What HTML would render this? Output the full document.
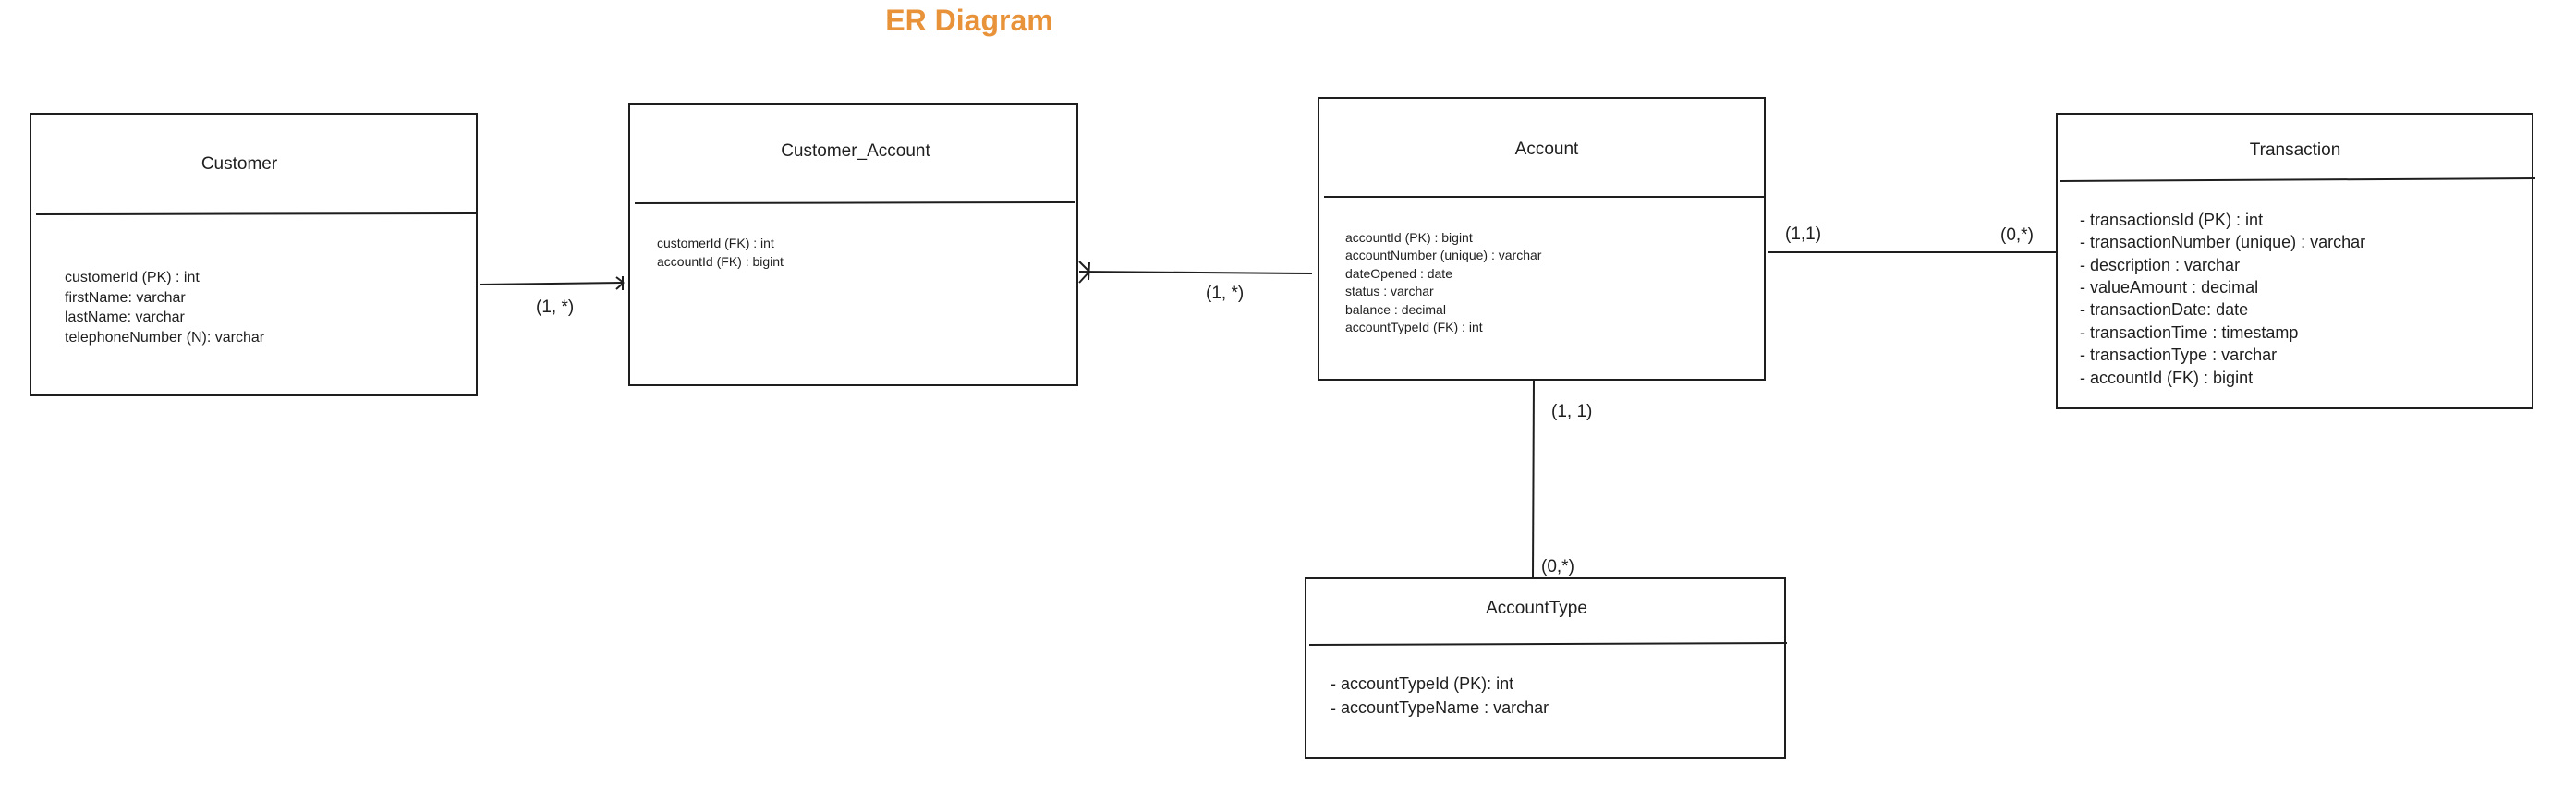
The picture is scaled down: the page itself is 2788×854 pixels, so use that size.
<!DOCTYPE html>
<html><head><meta charset="utf-8"><style>
html,body{margin:0;padding:0;background:#fff;}
svg{display:block;}
text{font-family:"Liberation Sans",sans-serif;fill:#1e1e1e;}
</style></head><body>
<svg width="2788" height="854" viewBox="0 0 2788 854" xmlns="http://www.w3.org/2000/svg">
<g fill="none" stroke="#1e1e1e" stroke-width="2">
<!-- Customer -->
<rect x="33" y="123" width="483" height="305"/>
<line x1="39" y1="232" x2="516" y2="231"/>
<!-- Customer_Account -->
<rect x="681" y="113" width="485" height="304"/>
<line x1="687" y1="220" x2="1164" y2="219"/>
<!-- Account -->
<rect x="1427" y="106" width="483" height="305"/>
<line x1="1433" y1="213" x2="1910" y2="213"/>
<!-- Transaction -->
<rect x="2226" y="123" width="515" height="319"/>
<line x1="2230" y1="196" x2="2744" y2="193"/>
<!-- AccountType -->
<rect x="1413" y="626" width="519" height="194"/>
<line x1="1417" y1="698" x2="1934" y2="696"/>
<!-- connectors -->
<line x1="519" y1="308" x2="674" y2="306"/>
<line x1="667" y1="300" x2="675" y2="306"/><line x1="667" y1="313" x2="675" y2="306"/><line x1="674" y1="299" x2="674" y2="314"/>
<line x1="1168" y1="294" x2="1420" y2="296"/>
<line x1="1168" y1="283" x2="1179" y2="294"/><line x1="1168" y1="306" x2="1179" y2="294"/><line x1="1179" y1="284" x2="1178" y2="303"/>
<line x1="1914" y1="273" x2="2226" y2="273"/>
<line x1="1660" y1="411" x2="1659" y2="626"/>
</g>
<text x="1049" y="33" text-anchor="middle" font-size="32" font-weight="bold" style="fill:#e8923a">ER Diagram</text>

<g font-size="19" text-anchor="middle">
<text x="259" y="183">Customer</text>
<text x="926" y="169">Customer_Account</text>
<text x="1674" y="167">Account</text>
<text x="2484" y="168">Transaction</text>
<text x="1663" y="664">AccountType</text>
</g>

<g font-size="16">
<text x="70" y="305">customerId (PK) : int</text>
<text x="70" y="327">firstName: varchar</text>
<text x="70" y="348">lastName: varchar</text>
<text x="70" y="370">telephoneNumber (N): varchar</text>
<text x="711" y="268" font-size="14">customerId (FK) : int</text>
<text x="711" y="288" font-size="14">accountId (FK) : bigint</text>
</g>
<g font-size="14">
<text x="1456" y="262">accountId (PK) : bigint</text>
<text x="1456" y="281">accountNumber (unique) : varchar</text>
<text x="1456" y="301">dateOpened : date</text>
<text x="1456" y="320">status : varchar</text>
<text x="1456" y="340">balance : decimal</text>
<text x="1456" y="359">accountTypeId (FK) : int</text>
</g>
<g font-size="18">
<text x="2251" y="244">- transactionsId  (PK) : int</text>
<text x="2251" y="268">- transactionNumber (unique) : varchar</text>
<text x="2251" y="293">- description : varchar</text>
<text x="2251" y="317">- valueAmount : decimal</text>
<text x="2251" y="341">- transactionDate: date</text>
<text x="2251" y="366">- transactionTime : timestamp</text>
<text x="2251" y="390">- transactionType : varchar</text>
<text x="2251" y="415">- accountId (FK) : bigint</text>
<text x="1440" y="746">- accountTypeId (PK): int</text>
<text x="1440" y="772">- accountTypeName : varchar</text>
</g>
<g font-size="19">
<text x="580" y="338">(1, *)</text>
<text x="1305" y="323">(1, *)</text>
<text x="1932" y="259">(1,1)</text>
<text x="2165" y="260">(0,*)</text>
<text x="1679" y="451">(1, 1)</text>
<text x="1668" y="619">(0,*)</text>
</g>
</svg>
</body></html>
